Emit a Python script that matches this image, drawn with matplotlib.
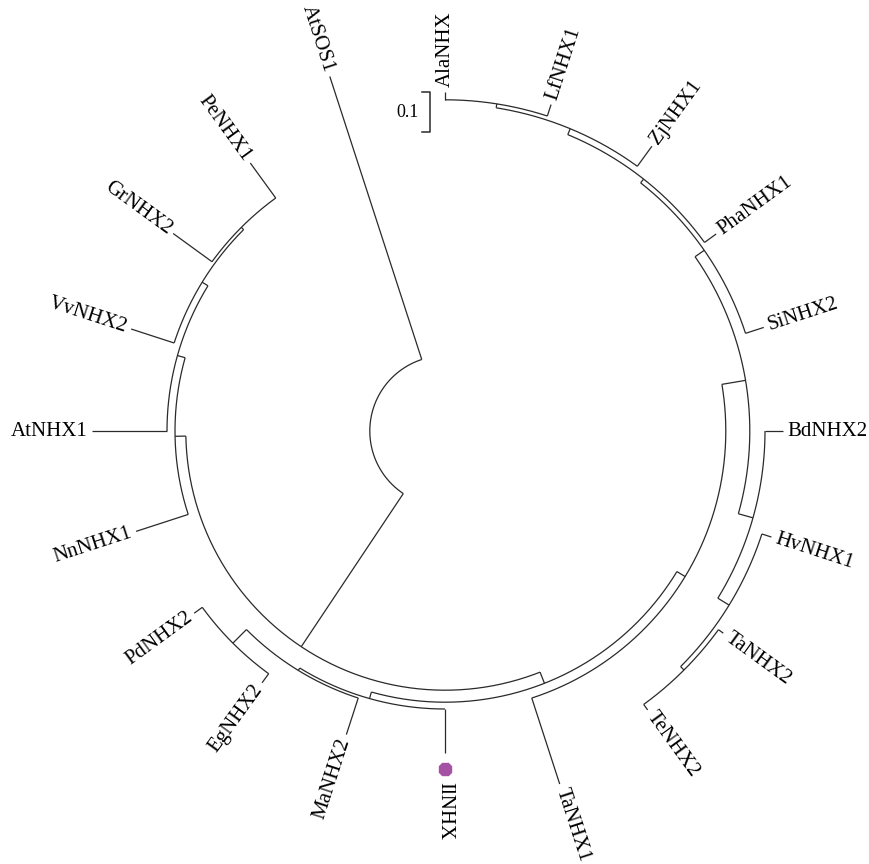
import numpy as np
import matplotlib.pyplot as plt

plt.rcParams['font.family'] = ['Liberation Serif', 'DejaVu Serif']

# taxa, clockwise from the top
leaf_names = ["AlaNHX", "LfNHX1", "ZjNHX1", "PhaNHX1", "SiNHX2", "BdNHX2",
              "HvNHX1", "TaNHX2", "TeNHX2", "TaNHX1", "IlNHX", "MaNHX2",
              "EgNHX2", "PdNHX2", "NnNHX1", "AtNHX1", "VvNHX2", "GrNHX2",
              "PeNHX1", "AtSOS1"]
# distance of each tip from the centre
leaf_depth = [0.848, 0.858, 0.880, 0.838, 0.838, 0.845,
              0.858, 0.860, 0.862, 0.928, 0.805, 0.798,
              0.778, 0.775, 0.812, 0.882, 0.825, 0.840,
              0.828, 0.932]

# internal nodes, listed children first
node_names = ["V3", "V2", "V1", "U", "TT", "H", "D", "X10", "Y",
              "PE", "B", "A", "P", "GP", "Y2", "X", "L", "IG", "root"]
node_children = [("AlaNHX", "LfNHX1"), ("V3", "ZjNHX1"), ("V2", "PhaNHX1"),
                 ("V1", "SiNHX2"), ("TaNHX2", "TeNHX2"), ("HvNHX1", "TT"),
                 ("BdNHX2", "H"), ("U", "D"), ("X10", "TaNHX1"),
                 ("PdNHX2", "EgNHX2"), ("PE", "MaNHX2"), ("B", "IlNHX"),
                 ("A", "Y"), ("GrNHX2", "PeNHX1"), ("VvNHX2", "GP"),
                 ("AtNHX1", "Y2"), ("NnNHX1", "X"), ("L", "P"),
                 ("IG", "AtSOS1")]
node_depth = [0.828, 0.818, 0.802, 0.790, 0.845, 0.833, 0.800, 0.762, 0.702,
              0.750, 0.702, 0.695, 0.678, 0.720, 0.712, 0.695, 0.675, 0.648,
              0.188]

highlight = "IlNHX"

# tips evenly spaced around the circle
step = 360.0 / len(leaf_names)
angle = {n: 90 - step * i for i, n in enumerate(leaf_names)}
depth = dict(zip(leaf_names, leaf_depth))
depth.update(zip(node_names, node_depth))
children = dict(zip(node_names, node_children))
for n in node_names:
    a = [angle[c] for c in children[n]]
    angle[n] = (min(a) + max(a)) / 2


def polar(r, deg):
    t = np.radians(deg)
    return r * np.cos(t), r * np.sin(t)


fig = plt.figure(figsize=(8.69, 8.64), dpi=100)
ax = fig.add_axes([0, 0, 1, 1])
ax.set_xlim(-445 / 400, 424 / 400)
ax.set_ylim(-433 / 400, 431 / 400)
ax.axis('off')

lc = '#2a2a2a'
lw = 0.9

for n in node_names:
    r = depth[n]
    a = [angle[c] for c in children[n]]
    th = np.linspace(min(a), max(a), 300)
    x, y = polar(r, th)
    ax.plot(x, y, color=lc, lw=lw, solid_capstyle='butt')
    for c in children[n]:
        x0, y0 = polar(r, angle[c])
        x1, y1 = polar(depth[c], angle[c])
        ax.plot([x0, x1], [y0, y1], color=lc, lw=lw, solid_capstyle='butt')

# tip labels
for n in leaf_names:
    a = angle[n] % 360
    gap = 0.012
    if n == highlight:
        dx, dy = polar(depth[n] + 0.040, a)
        ax.plot(dx, dy, marker='8', ms=10, color='#a552a5', mec='#a552a5')
        gap = 0.072
    tx, ty = polar(depth[n] + gap, a)
    if 90 < a < 270:
        rot, ha = a - 180, 'right'
    else:
        rot, ha = (a if a <= 90 else a - 360), 'left'
    ax.text(tx, ty, n, rotation=rot, rotation_mode='anchor', ha=ha,
            va='center', fontsize=15, color='black')

# scale bar
sx = -15 / 400
ax.plot([sx - 0.02, sx, sx, sx - 0.02], [0.8475, 0.8475, 0.7475, 0.7475],
        color=lc, lw=1.1)
ax.text(sx - 0.028, 0.7975, "0.1", ha='right', va='center', fontsize=13)

fig.savefig('out.png', dpi=100)
